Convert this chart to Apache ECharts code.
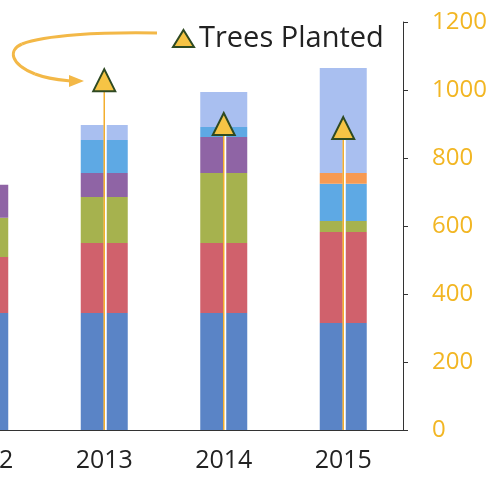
<!DOCTYPE html>
<html>
<head>
<meta charset="utf-8">
<script src="https://cdn.jsdelivr.net/npm/echarts@6/dist/echarts.min.js"></script>
<style>
  html, body { margin: 0; padding: 0; background: #fff; }
  #chart { width: 494px; height: 482px; }
</style>
</head>
<body>
<div id="chart"></div>
<script>
// 年份（2012 只露出右边一小截）
const years = ['2012', '2013', '2014', '2015'];

// 堆叠柱各段
const segBlue   = [344, 344, 344, 315];
const segRed    = [165, 206, 206, 267];
const segGreen  = [115, 135, 206, 33];
const segPurple = [97, 71, 106, 0];
const segAqua   = [0, 97, 29, 109];
const segOrange = [0, 0, 0, 32];
const segLight  = [0, 44, 103, 309];

// 三角形折线
const treesPlanted = [null, 1029, 900, 888];

const yTicks = [0, 200, 400, 600, 800, 1000, 1200];

const font = '"Open Sans", "DejaVu Sans", sans-serif';
const arrowColor = '#f3b847';

const chart = echarts.init(document.getElementById('chart'));

function stackBar(name, data, color) {
  return {
    name,
    type: 'bar',
    stack: 'total',
    barWidth: 47,
    data,
    itemStyle: { color },
    emphasis: { disabled: true },
  };
}

// 箭头曲线分段
function curve(x1, y1, cpx1, cpy1, cpx2, cpy2, x2, y2) {
  return {
    type: 'bezierCurve',
    silent: true,
    shape: { x1, y1, cpx1, cpy1, cpx2, cpy2, x2, y2 },
    style: { stroke: arrowColor, fill: null, lineWidth: 3 },
  };
}

const option = {
  animation: false,
  backgroundColor: '#fff',
  legend: {
    data: ['Trees Planted'],
    left: 167,
    top: 19,
    icon: 'triangle',
    itemWidth: 21,
    itemHeight: 17,
    textStyle: { fontFamily: font, fontSize: 29, color: '#222' },
  },
  grid: {
    left: -75,
    right: 91,
    top: 22,
    bottom: 52,
    outerBoundsMode: 'none',
  },
  xAxis: {
    type: 'category',
    data: years,
    axisLine: { lineStyle: { color: '#333', width: 1 } },
    axisTick: { length: 8, lineStyle: { color: '#333' } },
    axisLabel: { fontFamily: font, fontSize: 25, color: '#222', margin: 18 },
  },
  yAxis: {
    type: 'value',
    position: 'right',
    min: 0,
    max: 1200,
    interval: 200,
    axisLine: { show: true, lineStyle: { color: '#333', width: 1 } },
    axisTick: { show: true, length: 5, lineStyle: { color: '#333' } },
    axisLabel: {
      fontFamily: font,
      fontSize: 24,
      color: '#f2b623',
      margin: 29,
      formatter: v => (yTicks.includes(v) ? String(v) : ''),
    },
    splitLine: { show: false },
  },
  series: [
    stackBar('Blue', segBlue, '#5a84c6'),
    stackBar('Red', segRed, '#d0616c'),
    stackBar('Green', segGreen, '#a6b24e'),
    stackBar('Purple', segPurple, '#8f64a5'),
    stackBar('Aqua', segAqua, '#5ea9e4'),
    stackBar('Orange', segOrange, '#f79a52'),
    stackBar('Light', segLight, '#a9bff0'),
    {
      // 三角形到 0 的竖线
      name: 'drop',
      type: 'custom',
      silent: true,
      z: 3,
      data: treesPlanted.map((v, i) => [i, v]),
      renderItem(params, api) {
        const v = api.value(1);
        if (v == null || isNaN(v)) return;
        const p0 = api.coord([api.value(0), 0]);
        const p1 = api.coord([api.value(0), v]);
        return {
          type: 'group',
          children: [
            {
              type: 'line',
              shape: { x1: p0[0] + 1, y1: p0[1], x2: p1[0] + 1, y2: p1[1] },
              style: { stroke: '#ffffff', lineWidth: 3 },
            },
            {
              type: 'line',
              shape: { x1: p0[0], y1: p0[1], x2: p1[0], y2: p1[1] },
              style: { stroke: '#f3ae2e', lineWidth: 1.5 },
            },
          ],
        };
      },
    },
    {
      name: 'Trees Planted',
      type: 'line',
      z: 5,
      data: treesPlanted,
      symbol: 'triangle',
      symbolSize: 22,
      showAllSymbol: true,
      lineStyle: { opacity: 0 },
      itemStyle: { color: '#f6c445', borderColor: '#2f4a22', borderWidth: 2 },
    },
  ],
  graphic: [
    curve(157, 33, 100, 32, 45, 35, 22, 44),
    curve(22, 44, 8, 50, 10, 64, 35, 74),
    curve(35, 74, 48, 79, 60, 80, 70, 81),
    {
      type: 'polygon',
      silent: true,
      shape: { points: [[69, 75], [84, 81], [69, 87]] },
      style: { fill: arrowColor },
    },
  ],
};

chart.setOption(option);
</script>
</body>
</html>
